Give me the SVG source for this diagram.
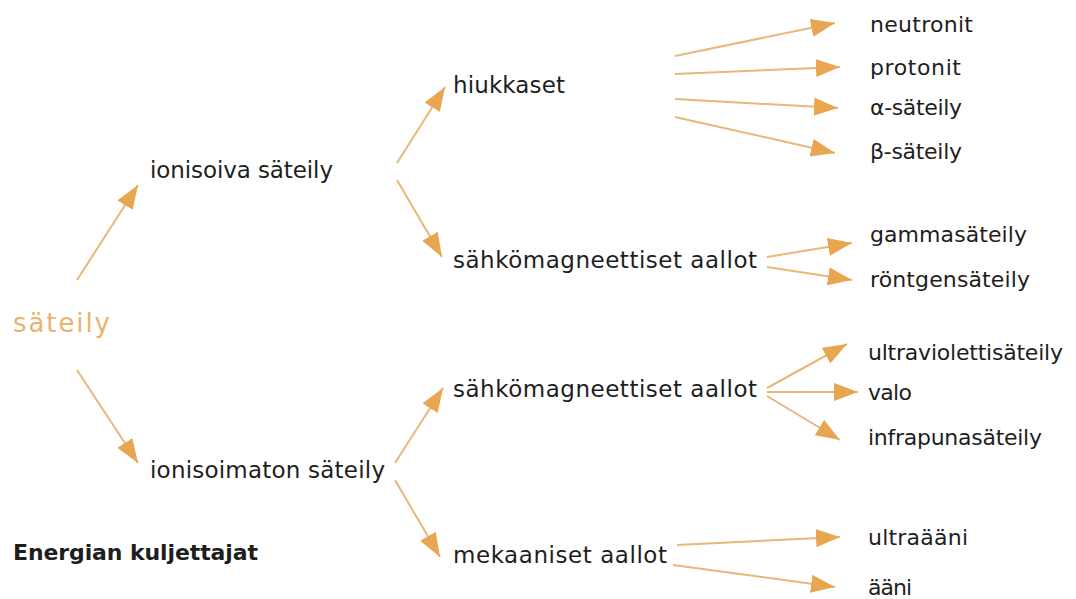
<svg xmlns="http://www.w3.org/2000/svg" width="1076" height="599" viewBox="0 0 1076 599">
<defs>
<style>
.t{font-family:"DejaVu Sans","Liberation Sans",sans-serif;font-size:23px;fill:#1e1e1e}
.r{font-size:22px}
.o{fill:#E9B36E;font-size:26px}
.b{font-weight:bold;font-size:22px}
.c{stroke:#E9B77A;stroke-width:2;fill:none;marker-end:url(#ah)}
</style>
<marker id="ah" markerUnits="userSpaceOnUse" markerWidth="26" markerHeight="20" refX="24" refY="9" orient="auto">
<path d="M0,0 L24,9 L0,18 z" fill="#E8A650"/>
</marker>
</defs>
<rect width="1076" height="599" fill="#ffffff"/>
<g id="connectors">
<line class="c" x1="77" y1="280" x2="138" y2="185"/>
<line class="c" x1="77" y1="370" x2="138" y2="463"/>
<line class="c" x1="397" y1="163" x2="445" y2="87"/>
<line class="c" x1="397" y1="180" x2="442" y2="257"/>
<line class="c" x1="395" y1="463" x2="443" y2="388"/>
<line class="c" x1="395" y1="480" x2="440" y2="557"/>
<line class="c" x1="675" y1="56" x2="835" y2="23"/>
<line class="c" x1="675" y1="74" x2="840" y2="67"/>
<line class="c" x1="675" y1="99" x2="838" y2="108"/>
<line class="c" x1="675" y1="117" x2="835" y2="153"/>
<line class="c" x1="767" y1="257" x2="852" y2="243"/>
<line class="c" x1="767" y1="267" x2="852" y2="280"/>
<line class="c" x1="767" y1="388" x2="847" y2="344"/>
<line class="c" x1="767" y1="392" x2="858" y2="392"/>
<line class="c" x1="767" y1="396" x2="840" y2="440"/>
<line class="c" x1="677" y1="545" x2="840" y2="537"/>
<line class="c" x1="673" y1="565" x2="835" y2="587"/>
</g>
<g id="n-sateily"><text class="t o" x="13" y="332" textLength="97">säteily</text></g>
<g id="n-ionisoiva"><text class="t" x="150" y="178" textLength="183">ionisoiva säteily</text></g>
<g id="n-ionisoimaton"><text class="t" x="150" y="478" textLength="235">ionisoimaton säteily</text></g>
<g id="n-hiukkaset"><text class="t" x="453" y="93" textLength="112">hiukkaset</text></g>
<g id="n-sahko1"><text class="t" x="453" y="268" textLength="304">sähkömagneettiset aallot</text></g>
<g id="n-sahko2"><text class="t" x="453" y="397" textLength="304">sähkömagneettiset aallot</text></g>
<g id="n-mekaaniset"><text class="t" x="453" y="563" textLength="214">mekaaniset aallot</text></g>
<g id="n-neutronit"><text class="t r" x="870" y="32" textLength="103">neutronit</text></g>
<g id="n-protonit"><text class="t r" x="870" y="75" textLength="91">protonit</text></g>
<g id="n-alfa"><text class="t r" x="870" y="115" textLength="92">α-säteily</text></g>
<g id="n-beta"><text class="t r" x="870" y="159" textLength="92">β-säteily</text></g>
<g id="n-gamma"><text class="t r" x="870" y="242" textLength="157">gammasäteily</text></g>
<g id="n-rontgen"><text class="t r" x="870" y="287" textLength="160">röntgensäteily</text></g>
<g id="n-uv"><text class="t r" x="868" y="360" textLength="195">ultraviolettisäteily</text></g>
<g id="n-valo"><text class="t r" x="868" y="400" textLength="44">valo</text></g>
<g id="n-ir"><text class="t r" x="868" y="445" textLength="174">infrapunasäteily</text></g>
<g id="n-ultraaani"><text class="t r" x="868" y="545" textLength="100">ultraääni</text></g>
<g id="n-aani"><text class="t r" x="868" y="595" textLength="44">ääni</text></g>
<g id="title"><text class="t b" x="13" y="560" textLength="245">Energian kuljettajat</text></g>
</svg>
